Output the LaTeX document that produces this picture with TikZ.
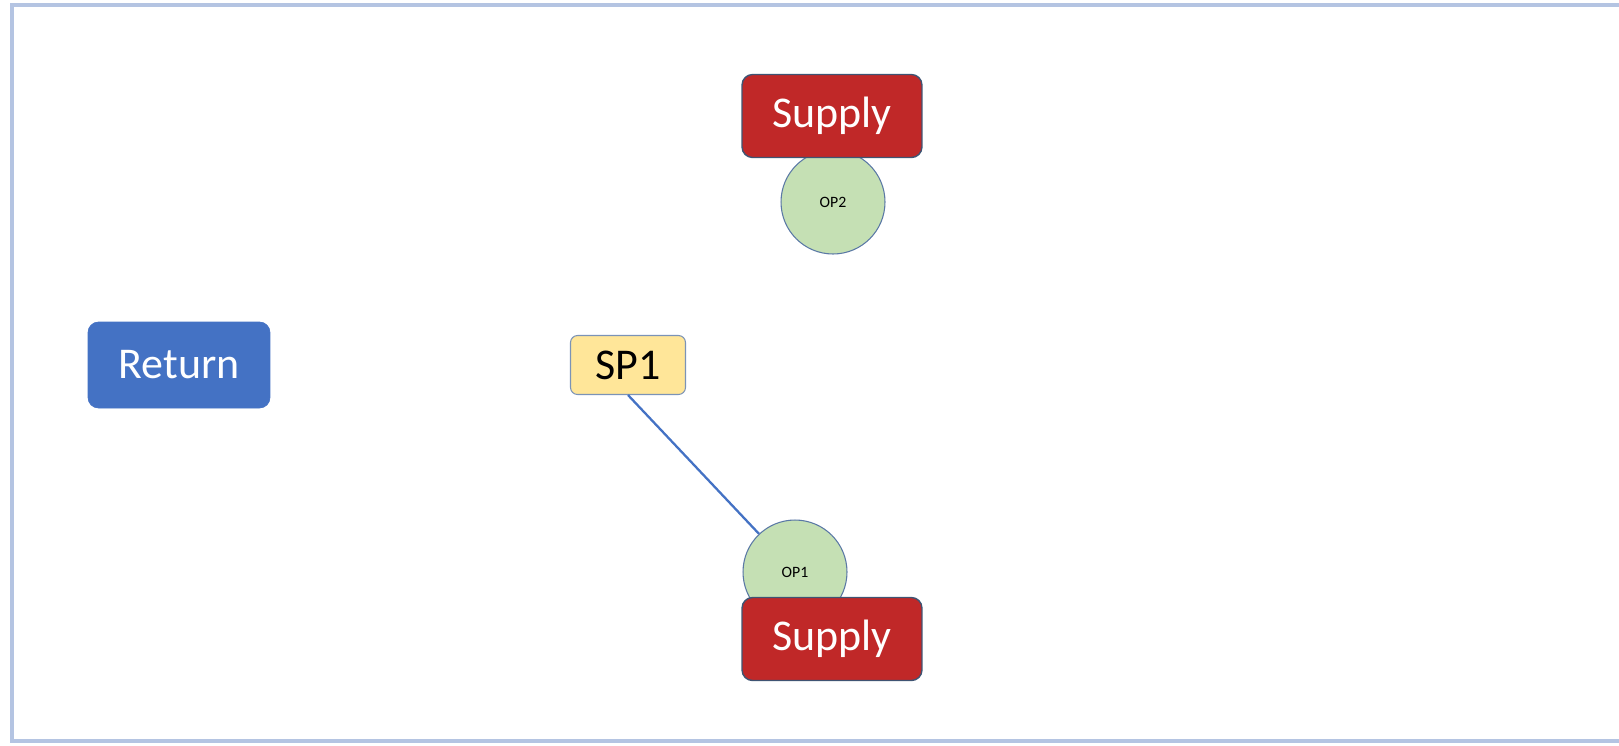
\documentclass[tikz,border=0pt]{standalone}
\usepackage{fontspec}
\setmainfont{Carlito}
\usepackage{tikz}
\usetikzlibrary{positioning}
\definecolor{supplyred}{RGB}{192,40,40}
\definecolor{returnblue}{RGB}{68,114,196}
\definecolor{pointyellow}{RGB}{255,230,153}
\definecolor{opgreen}{RGB}{197,224,180}
\definecolor{edgeblue}{RGB}{90,120,165}
\definecolor{framegray}{RGB}{180,196,226}

\tikzset{
    supplybox/.style={draw=edgeblue!70!black, line width=0.8pt, fill=supplyred, rounded corners=6pt,
        minimum width=3.6cm, minimum height=1.66cm, text=white, font=\fontsize{25}{30}\selectfont},
    returnbox/.style={draw=returnblue, fill=returnblue, rounded corners=6pt,
        minimum width=3.64cm, minimum height=1.72cm, text=white, font=\fontsize{25}{30}\selectfont},
    pointbox/.style={draw=edgeblue!80, line width=0.6pt, fill=pointyellow, rounded corners=4pt,
        minimum width=2.3cm, minimum height=1.18cm, font=\fontsize{25}{30}\selectfont},
    opcircle/.style={circle, draw=edgeblue, line width=0.6pt, fill=opgreen,
        minimum size=2.08cm, inner sep=0pt, font=\fontsize{9}{10}\selectfont},
    link/.style={returnblue, line width=1.3pt}
}

\begin{document}
\begin{tikzpicture}[x=0.02cm, y=-0.02cm]
    \useasboundingbox (0,0) rectangle (1619,745);

    % Frame
    \draw[framegray, line width=1.8pt] (1619,5) -- (12,5) -- (12,741) -- (1619,741);

    % Operating points
    \node[opcircle] (op2) at (833,202) {OP2};
    \node[opcircle] (op1) at (795,572) {OP1};

    % Supplies
    \node[supplybox] (supplytop) at (832,116) {Supply};
    \node[supplybox] (supplybot) at (832,639) {Supply};

    % Return
    \node[returnbox] (return) at (179,365) {Return};

    % Set point
    \node[pointbox] (sp1) at (628,365) {SP1};
    \draw[link] (sp1.south) -- (op1);
\end{tikzpicture}
\end{document}
